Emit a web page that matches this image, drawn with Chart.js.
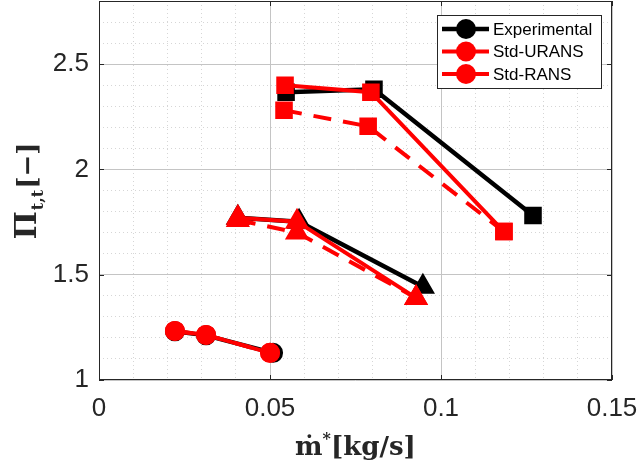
<!DOCTYPE html>
<html lang="en">
<head>
<meta charset="UTF-8">
<script src="https://cdn.jsdelivr.net/npm/chart.js"></script>
<style>
  body { margin: 0; background: #fff; }
  #wrap { width: 642px; height: 468px; }
</style>
<title>Pressure ratio vs mass flow</title>
</head>
<body>
<div id="wrap"><canvas id="myChart" width="642" height="468"></canvas></div>
<script>
// values
// x = corrected mass flow [kg/s], y = total-to-total pressure ratio
const seriesNames = ['Experimental', 'Std-URANS', 'Std-RANS'];

// Experimental
const expSqX  = [0.0547, 0.0804, 0.1269];
const expSqY  = [2.367, 2.381, 1.781];
const expTriX = [0.0406, 0.0585, 0.0947];
const expTriY = [1.771, 1.752, 1.443];
const expCirX = [0.0222, 0.0313, 0.0509];
const expCirY = [1.231, 1.212, 1.129];

// Std-URANS
const uransSqX  = [0.0544, 0.0795, 0.1184];
const uransSqY  = [2.400, 2.367, 1.705];
const uransTriX = [0.0406, 0.0579, 0.0927];
const uransTriY = [1.771, 1.752, 1.390];
const uransCirX = [0.0222, 0.0313, 0.0500];
const uransCirY = [1.233, 1.214, 1.129];

// Std-RANS
const ransSqX  = [0.0541, 0.0787, 0.1184];
const ransSqY  = [2.281, 2.205, 1.705];
const ransTriX = [0.0406, 0.0579, 0.0927];
const ransTriY = [1.760, 1.700, 1.390];
const ransCirX = [0.0222, 0.0313, 0.0500];
const ransCirY = [1.233, 1.214, 1.129];

const xTicks = [0, 0.05, 0.1, 0.15];
const yTicks = [1, 1.5, 2, 2.5];

function pts(xs, ys) {
    return xs.map((x, i) => ({x: x, y: ys[i]}));
}
function isMajor(v, list) {
    return list.some(t => Math.abs(v - t) < 1e-7);
}

const BLACK = '#000000';
const RED = '#ff0000';

function makeSet(label, xs, ys, color, style, dashed, order) {
    let r = 9;
    if (style == 'rect') r = 11;
    if (style == 'triangle') r = 12;
    return {
        label: label,
        data: pts(xs, ys),
        showLine: true,
        borderColor: color,
        backgroundColor: color,
        borderWidth: color == BLACK ? 4.5 : 4,
        borderDash: dashed ? [18, 12] : [],
        pointStyle: style,
        pointRadius: r,
        pointBorderWidth: 2,
        pointBorderColor: color,
        pointBackgroundColor: color,
        order: order
    };
}

const datasets = [
    makeSet(seriesNames[0], expSqX, expSqY, BLACK, 'rect', false, 3),
    makeSet(seriesNames[0], expTriX, expTriY, BLACK, 'triangle', false, 3),
    makeSet(seriesNames[0], expCirX, expCirY, BLACK, 'circle', false, 3),
    makeSet(seriesNames[1], uransSqX, uransSqY, RED, 'rect', false, 2),
    makeSet(seriesNames[1], uransTriX, uransTriY, RED, 'triangle', false, 2),
    makeSet(seriesNames[1], uransCirX, uransCirY, RED, 'circle', false, 2),
    makeSet(seriesNames[2], ransSqX, ransSqY, RED, 'rect', true, 1),
    makeSet(seriesNames[2], ransTriX, ransTriY, RED, 'triangle', true, 1),
    makeSet(seriesNames[2], ransCirX, ransCirY, RED, 'circle', true, 1)
];

// box + inward tick marks like matlab
const framePlugin = {
    id: 'frame',
    afterDatasetsDraw(chart) {
        const ctx = chart.ctx;
        const a = chart.chartArea;
        const sx = chart.scales.x, sy = chart.scales.y;
        ctx.save();
        ctx.strokeStyle = '#262626';
        ctx.lineWidth = 1;
        ctx.strokeRect(a.left + 0.5, a.top + 0.5, a.right - a.left - 1, a.bottom - a.top - 1);
        ctx.beginPath();
        xTicks.forEach(v => {
            const p = Math.round(sx.getPixelForValue(v)) + 0.5;
            ctx.moveTo(p, a.bottom); ctx.lineTo(p, a.bottom - 5);
            ctx.moveTo(p, a.top); ctx.lineTo(p, a.top + 5);
        });
        yTicks.forEach(v => {
            const p = Math.round(sy.getPixelForValue(v)) + 0.5;
            ctx.moveTo(a.left, p); ctx.lineTo(a.left + 5, p);
            ctx.moveTo(a.right, p); ctx.lineTo(a.right - 5, p);
        });
        ctx.stroke();
        ctx.restore();
    }
};

// axis titles with sub/superscripts
const titlePlugin = {
    id: 'titles',
    afterDraw(chart) {
        const ctx = chart.ctx;
        const a = chart.chartArea;
        ctx.save();
        ctx.fillStyle = '#262626';
        ctx.textBaseline = 'alphabetic';
        const big = 'bold 26px "DejaVu Serif"';
        const small = 'bold 16px "DejaVu Serif"';

        // x title: m-dot * [kg/s]
        let parts = [['\u1E41', big, 0], ['*', small, -11], ['[kg/s]', big, 0]];
        let w = 0;
        parts.forEach(p => { ctx.font = p[1]; w += ctx.measureText(p[0]).width; });
        let x = (a.left + a.right) / 2 - w / 2;
        const yb = 455;
        parts.forEach(p => {
            ctx.font = p[1];
            ctx.fillText(p[0], x, yb + p[2]);
            x += ctx.measureText(p[0]).width;
        });

        // y title: Pi_{t,t} [-]
        parts = [['\u03A0', 'bold 30px "DejaVu Serif"', 0], ['t,t', small, 7], ['[\u2212]', big, 0]];
        w = 0;
        parts.forEach(p => { ctx.font = p[1]; w += ctx.measureText(p[0]).width + 1; });
        ctx.translate(36, (a.top + a.bottom) / 2);
        ctx.rotate(-Math.PI / 2);
        x = -w / 2;
        parts.forEach(p => {
            ctx.font = p[1];
            ctx.fillText(p[0], x, p[2]);
            x += ctx.measureText(p[0]).width + 1;
        });
        ctx.restore();
    }
};

// legend box in the upper right
const legendPlugin = {
    id: 'boxLegend',
    afterDraw(chart) {
        const ctx = chart.ctx;
        const a = chart.chartArea;
        const bx = a.right - 175, by = a.top + 14, bw = 164, bh = 73;
        const colors = [BLACK, RED, RED];
        const dashes = [[], [], [18, 12]];
        ctx.save();
        ctx.fillStyle = '#fff';
        ctx.fillRect(bx, by, bw, bh);
        ctx.strokeStyle = '#262626';
        ctx.lineWidth = 1;
        ctx.strokeRect(bx + 0.5, by + 0.5, bw, bh);
        seriesNames.forEach((name, i) => {
            const y = by + 14 + i * 22.5;
            ctx.strokeStyle = colors[i];
            ctx.fillStyle = colors[i];
            ctx.lineWidth = i == 0 ? 4.5 : 4;
            ctx.setLineDash(dashes[i]);
            ctx.beginPath();
            ctx.moveTo(bx + 5, y);
            ctx.lineTo(bx + 52, y);
            ctx.stroke();
            ctx.setLineDash([]);
            ctx.beginPath();
            ctx.arc(bx + 29, y, 10, 0, Math.PI * 2);
            ctx.fill();
            ctx.fillStyle = '#000';
            ctx.font = '17px "Liberation Sans"';
            ctx.textBaseline = 'middle';
            ctx.fillText(name, bx + 56, y + 1);
        });
        ctx.restore();
    }
};

const tickFont = { family: 'Liberation Sans', size: 26 };

const config = {
    type: 'scatter',
    data: { datasets: datasets },
    plugins: [framePlugin, titlePlugin, legendPlugin],
    options: {
        responsive: false,
        animation: false,
        layout: { autoPadding: false, padding: { top: 1, right: 30, left: 0, bottom: 0 } },
        plugins: {
            legend: { display: false },
            tooltip: { enabled: false }
        },
        scales: {
            x: {
                type: 'linear',
                min: 0,
                max: 0.15,
                // fixed box, no extra label padding
                afterFit: s => { s.height = 88; s.paddingLeft = 0; s.paddingRight = 0; },
                ticks: {
                    stepSize: 0.01,
                    autoSkip: false,
                    maxRotation: 0,
                    padding: 13,
                    color: '#262626',
                    font: tickFont,
                    callback: v => isMajor(v, xTicks) ? String(Math.round(v * 100) / 100) : ''
                },
                grid: {
                    drawTicks: false,
                    lineWidth: 1,
                    color: c => isMajor(c.tick.value, xTicks) ? '#c4c4c4' : '#d6d6d6'
                },
                border: {
                    display: false,
                    dash: c => (c.tick && !isMajor(c.tick.value, xTicks)) ? [1, 3] : []
                }
            },
            y: {
                type: 'linear',
                min: 1,
                max: 2.8,
                afterFit: s => { s.width = 99; s.paddingTop = 0; s.paddingBottom = 0; },
                ticks: {
                    stepSize: 0.1,
                    autoSkip: false,
                    padding: 10,
                    color: '#262626',
                    font: tickFont,
                    callback: v => isMajor(v, yTicks) ? String(Math.round(v * 10) / 10) : ''
                },
                grid: {
                    drawTicks: false,
                    lineWidth: 1,
                    color: c => isMajor(c.tick.value, yTicks) ? '#c4c4c4' : '#d6d6d6'
                },
                border: {
                    display: false,
                    dash: c => (c.tick && !isMajor(c.tick.value, yTicks)) ? [1, 3] : []
                }
            }
        }
    }
};

const myChart = new Chart(document.getElementById('myChart').getContext('2d'), config);
</script>
</body>
</html>
